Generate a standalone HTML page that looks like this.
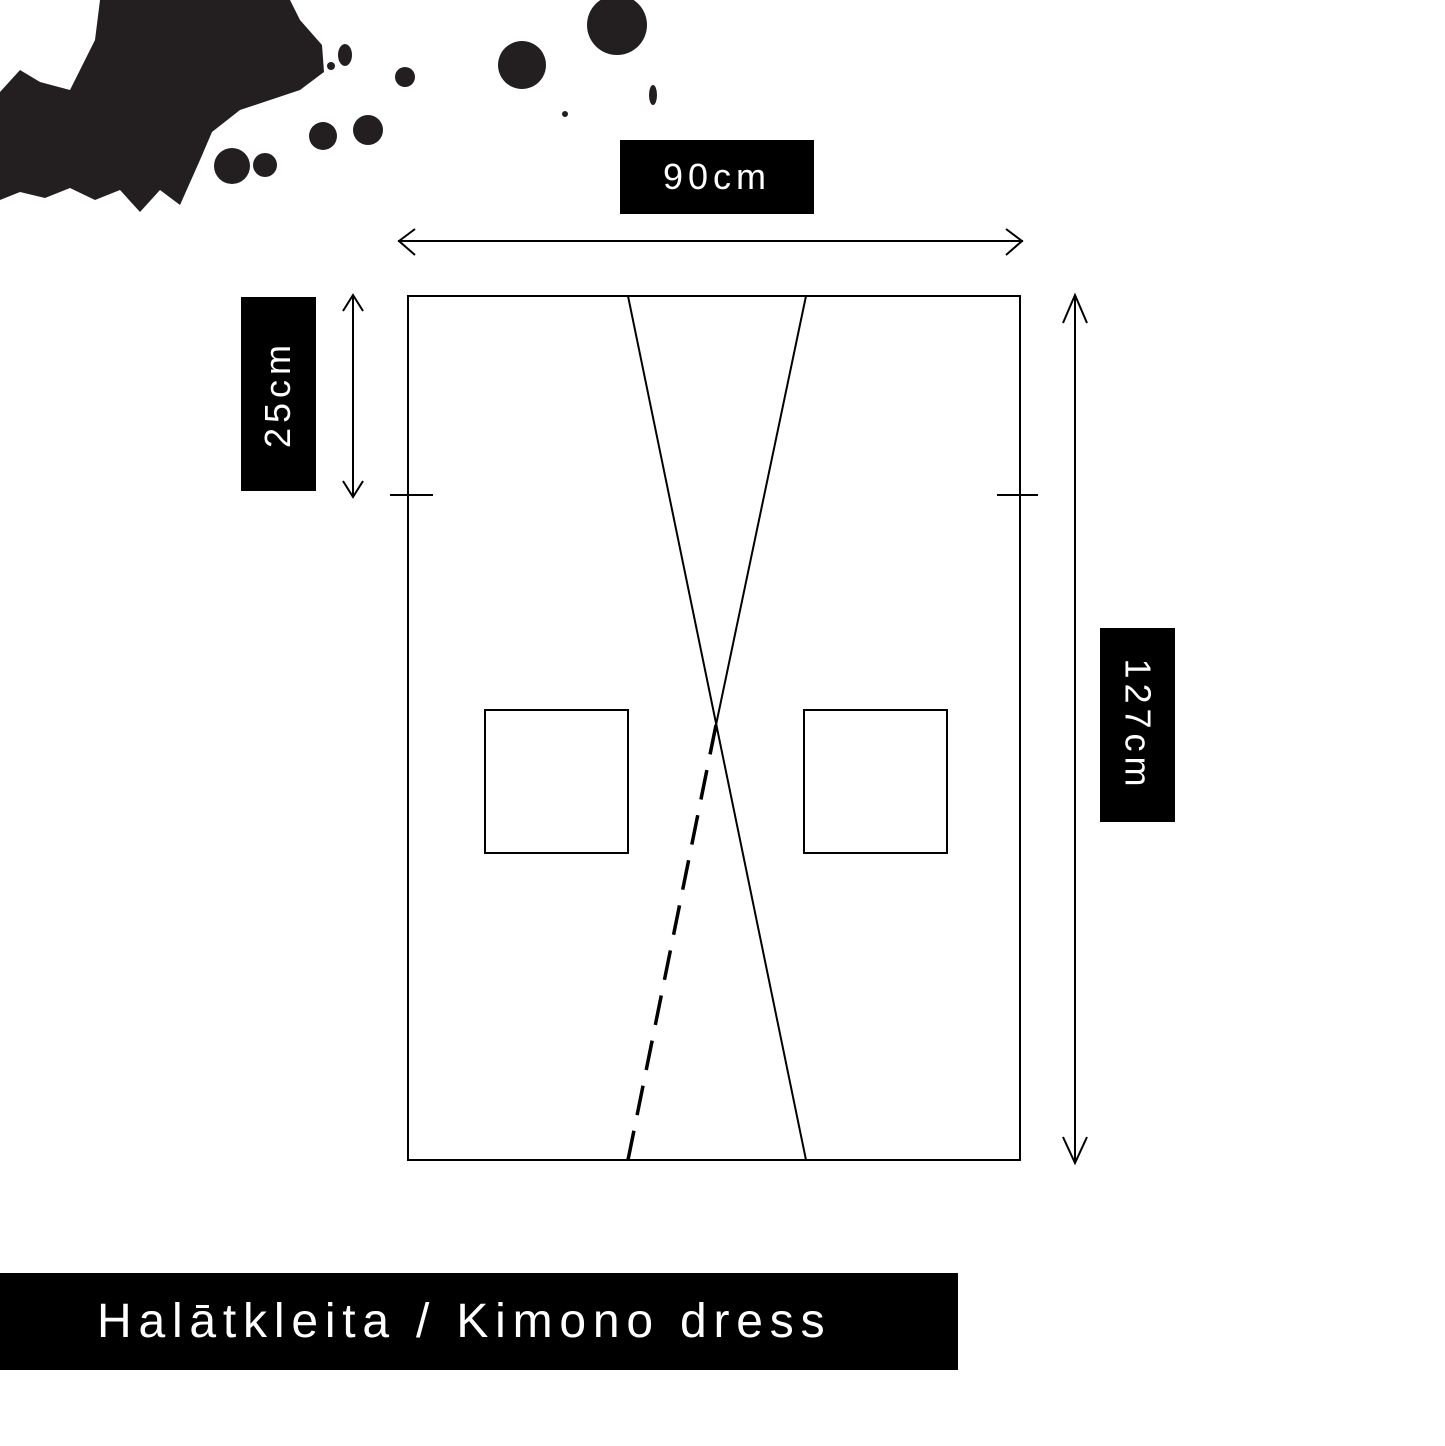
<!DOCTYPE html>
<html><head><style>
html,body{margin:0;padding:0;background:#fff;}
body{width:1445px;height:1446px;position:relative;overflow:hidden;font-family:"Liberation Sans",sans-serif;}
.lbl{position:absolute;background:#000;color:#fff;display:flex;align-items:center;justify-content:center;font-size:36px;letter-spacing:5px;}
</style></head><body>
<svg width="1445" height="1446" style="position:absolute;left:0;top:0">
<g fill="#231f20">
<polygon points="0,92 20,70 40,82 70,90 95,40 100,0 290,0 300,20 322,45 324,72 300,90 240,110 212,132 200,160 180,205 160,190 140,212 120,190 95,200 70,188 45,198 20,192 0,200"/>
<circle cx="331" cy="66" r="4"/><ellipse cx="345" cy="55" rx="7" ry="11"/>
<circle cx="405" cy="77" r="10"/><circle cx="323" cy="136" r="14"/><circle cx="368" cy="130" r="15"/>
<circle cx="232" cy="166" r="18"/><circle cx="265" cy="165" r="12"/><circle cx="522" cy="65" r="24"/>
<circle cx="617" cy="25" r="30"/><ellipse cx="653" cy="95" rx="4" ry="10"/><circle cx="565" cy="114" r="3"/>
</g>
<g stroke="#000" stroke-width="2" fill="none">
<rect x="408" y="296" width="612" height="864"/>
<line x1="628" y1="296" x2="806" y2="1160"/>
<line x1="806" y1="296" x2="716" y2="725"/>
<line x1="716" y1="725" x2="628" y2="1160" stroke-width="3.5" stroke-dasharray="30,16"/>
<rect x="485" y="710" width="143" height="143"/>
<rect x="804" y="710" width="143" height="143"/>
<line x1="390" y1="495" x2="433" y2="495"/>
<line x1="997" y1="495" x2="1038" y2="495"/>
<line x1="398" y1="241" x2="1023" y2="241"/>
<polyline points="415,229 399,241 415,255"/>
<polyline points="1006,229 1022,241 1006,255"/>
<line x1="353" y1="295" x2="353" y2="497"/>
<polyline points="343,311 353,295 363,311"/>
<polyline points="343,481 353,497 363,481"/>
<line x1="1075" y1="295" x2="1075" y2="1163"/>
<polyline points="1063,323 1075,295 1087,323"/>
<polyline points="1063,1137 1075,1163 1087,1137"/>
</g>
</svg>
<div class="lbl" style="left:620px;top:140px;width:194px;height:74px;">90cm</div>
<div class="lbl" style="left:241px;top:297px;width:75px;height:194px;"><span style="transform:rotate(-90deg);display:block;white-space:nowrap">25cm</span></div>
<div class="lbl" style="left:1100px;top:628px;width:75px;height:194px;"><span style="transform:rotate(90deg);display:block;white-space:nowrap">127cm</span></div>
<div class="lbl" style="left:0;top:1273px;width:958px;height:97px;justify-content:flex-start;font-size:48px;letter-spacing:6.8px;"><span style="padding-left:97px;white-space:nowrap">Halātkleita / Kimono dress</span></div>
</body></html>
